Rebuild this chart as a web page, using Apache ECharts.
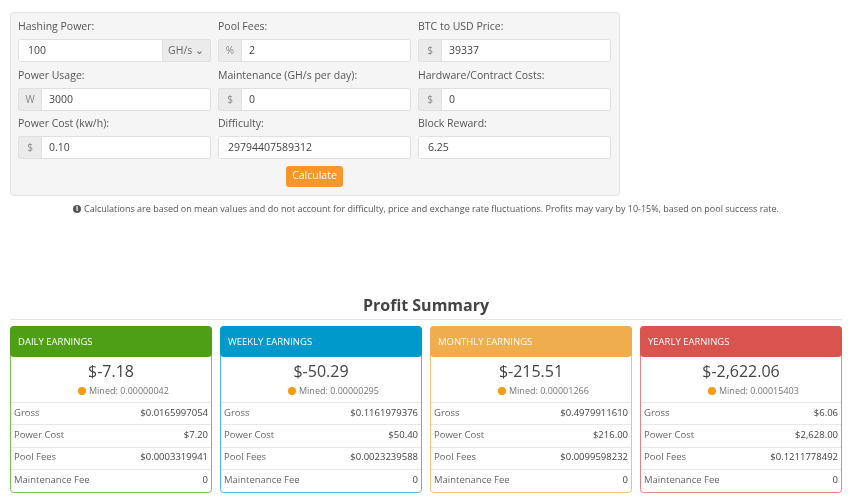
<!DOCTYPE html><html><head><meta charset="utf-8"><script src="https://cdn.jsdelivr.net/npm/echarts@6/dist/echarts.min.js"></script>
<style>html,body{margin:0;padding:0;background:#fff}#c{width:850px;height:504px}</style></head><body><div id="c"></div><script>
const fieldLabels=[["Hashing Power:","Pool Fees:","BTC to USD Price:"],["Power Usage:","Maintenance (GH/s per day):","Hardware/Contract Costs:"],["Power Cost (kw/h):","Difficulty:","Block Reward:"]];
const fieldValues=[["100","2","39337"],["3000","0","0"],["0.10","29794407589312","6.25"]];
const fieldPrefix=[[null,"%","$"],["W","$","$"],["$",null,null]];
const cardTitles=["DAILY EARNINGS","WEEKLY EARNINGS","MONTHLY EARNINGS","YEARLY EARNINGS"];
const cardColors=["#4e9f16","#0099cc","#f0ad4e","#d9534f"];
const cardBorders=["#7cc04b","#4fb8e0","#f3c07a","#e38480"];
const cardTotals=["$-7.18","$-50.29","$-215.51","$-2,622.06"];
const cardMined=["0.00000042","0.00000295","0.00001266","0.00015403"];
const rowLabels=["Gross","Power Cost","Pool Fees","Maintenance Fee"];
const rowValues=[["$0.0165997054","$7.20","$0.0003319941","0"],["$0.1161979376","$50.40","$0.0023239588","0"],["$0.4979911610","$216.00","$0.0099598232","0"],["$6.06","$2,628.00","$0.1211778492","0"]];
const F='"Open Sans", "DejaVu Sans", sans-serif';
const g=[];
function rect(x,y,w,h,fill,stroke,r){g.push({type:'rect',shape:{x:x,y:y,width:w,height:h,r:r||0},style:{fill:fill,stroke:stroke||null,lineWidth:1}});}
function text(x,y,s,opt){g.push({type:'text',x:x,y:y,style:Object.assign({text:s,fill:'#555',font:'11px '+F,textVerticalAlign:'middle'},opt||{})});}
rect(10.5,12.5,609,183,'#f5f5f5','#e3e3e3',3);
const colX=[18,218,418], rowY=[27,76,124];
for(let r=0;r<3;r++)for(let c=0;c<3;c++){
  const x=colX[c], y=rowY[r];
  text(x,y,fieldLabels[r][c],{fill:'#555',font:'10.5px '+F});
  rect(x+0.5,y+12.5,192,22,'#fff','#e0e0e0',2);
  let tx=x+10;
  const p=fieldPrefix[r][c];
  if(p){rect(x+0.5,y+12.5,23,22,'#ebebeb','#e0e0e0',2);text(x+12,y+24,p,{fill:'#888',textAlign:'center',font:'10px '+F});tx=x+31;}
  if(r===0&&c===0){rect(x+144.5,y+12.5,48,22,'#ebebeb','#e0e0e0',2);text(x+150,y+24,'GH/s ⌄',{fill:'#666',font:'10.5px '+F});}
  text(tx,y+24,fieldValues[r][c],{fill:'#444',font:'10.5px '+F});
}
rect(286,166,57,21,'#f7962a',null,3);
text(314.5,176.5,'Calculate',{fill:'#fff',textAlign:'center',font:'10.5px '+F});
g.push({type:'circle',shape:{cx:77,cy:209,r:4},style:{fill:'#555'}});
text(77,209,'i',{fill:'#fff',textAlign:'center',font:'bold 7px '+F});
text(84,209,'Calculations are based on mean values and do not account for difficulty, price and exchange rate fluctuations. Profits may vary by 10-15%, based on pool success rate.',{fill:'#555',font:'9px '+F});
text(426,306,'Profit Summary',{fill:'#444',textAlign:'center',font:'bold 16px '+F});
g.push({type:'line',shape:{x1:10,y1:319.5,x2:842,y2:319.5},style:{stroke:'#e5e5e5',lineWidth:1}});
const cardX=[10,220,430,640];
for(let i=0;i<4;i++){
  const x=cardX[i];
  rect(x+0.5,326.5,201,166,'#fff',cardBorders[i],3);
  rect(x+0.5,326.5,201,30,cardColors[i],cardColors[i],3);
  text(x+8,342,cardTitles[i],{fill:'#fff',font:'9.5px '+F});
  text(x+101,372,cardTotals[i],{fill:'#444',textAlign:'center',font:'16px '+F});
  const mt='Mined: '+cardMined[i];
  g.push({type:'circle',shape:{cx:x+72,cy:391,r:4},style:{fill:'#f39c12'}});
  text(x+79,391,mt,{fill:'#777',font:'9px '+F});
  for(let r=0;r<4;r++){
    const y=413+r*22.3;
    if(r>0)g.push({type:'line',shape:{x1:x+1,y1:Math.round(y-11)+0.5,x2:x+201,y2:Math.round(y-11)+0.5},style:{stroke:'#e8e8e8',lineWidth:1}});
    text(x+4,y,rowLabels[r],{fill:'#666',font:'9.5px '+F});
    text(x+198,y,rowValues[i][r],{fill:'#444',textAlign:'right',font:'9.5px '+F});
  }
  g.push({type:'line',shape:{x1:x+1,y1:402.5,x2:x+201,y2:402.5},style:{stroke:'#e8e8e8',lineWidth:1}});
}
const chart=echarts.init(document.getElementById('c'),null,{renderer:'canvas'});
chart.setOption({animation:false,graphic:{elements:g}});
</script></body></html>
